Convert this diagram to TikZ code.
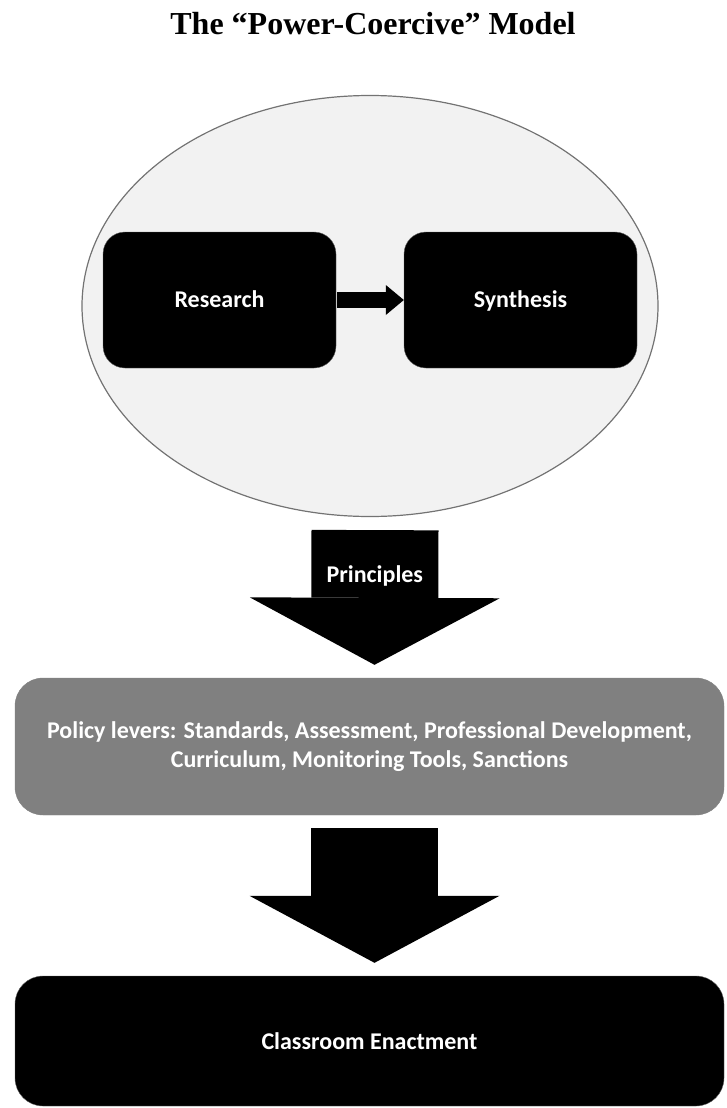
\documentclass[tikz,border=0pt]{standalone}
\usepackage{fontspec}
\setmainfont{Liberation Serif}
\newfontfamily\boksfont{Carlito}
\usetikzlibrary{shapes.geometric,arrows.meta}

\begin{document}
\begin{tikzpicture}[x=1pt,y=-1pt,
		boks/.style={rectangle, rounded corners=22pt, fill=black, draw=black!60, text=white, inner sep=0pt,
			font=\boksfont\bfseries\fontsize{24}{29}\selectfont},
		litenboks/.style={boks, minimum width=233pt, minimum height=136pt, text height=15pt, text depth=0pt},
		storpil/.style={line width=127pt, -{Triangle[length=67pt,width=250pt,line width=0pt]}},
		litenpil/.style={line width=16pt, -{Triangle[length=18pt,width=30pt,line width=0pt]}}]
		\useasboundingbox (0,0) rectangle (727,1108);
		
		% Tittel
		\node[font=\bfseries\fontsize{32}{38}\selectfont, anchor=base] (tittel) at (373,35) {The “Power-Coercive” Model};
		
		% Ellipse med forskning og syntese
		\node[ellipse, draw=black!55, line width=1.2pt, fill=black!5, minimum width=576pt, minimum height=421pt, inner sep=0pt] (ell) at (370,306) {};
		\node[litenboks] (research) at (219.5,300) {Research};
		\node[litenboks] (synthesis) at (520.5,300) {Synthesis};
		\draw[litenpil] ([xshift=1pt]research.east) -- (synthesis.west);
		
		% Virkemidler
		\node[boks, fill=black!50, draw=black!50, rounded corners=28pt, minimum width=709pt, minimum height=137pt, align=center] (policy) at (369.5,746.5)
			{Policy levers: Standards, Assessment, Professional Development,\\Curriculum, Monitoring Tools, Sanctions};
		
		% Klasserommet
		\node[boks, rounded corners=28pt, minimum width=709pt, minimum height=130pt] (klasse) at (369.5,1041) {Classroom Enactment};
		
		% Store piler
		\draw[storpil] ([xshift=5pt,yshift=-13pt]ell.south) -- node[pos=0.34, text=white, font=\boksfont\bfseries\fontsize{24}{29}\selectfont] (prinsipp) {Principles} ([xshift=5pt,yshift=13pt]policy.north);
		\draw[storpil] ([xshift=5pt,yshift=-13pt]policy.south) -- ([xshift=5pt,yshift=13pt]klasse.north);
	\end{tikzpicture}
\end{document}
